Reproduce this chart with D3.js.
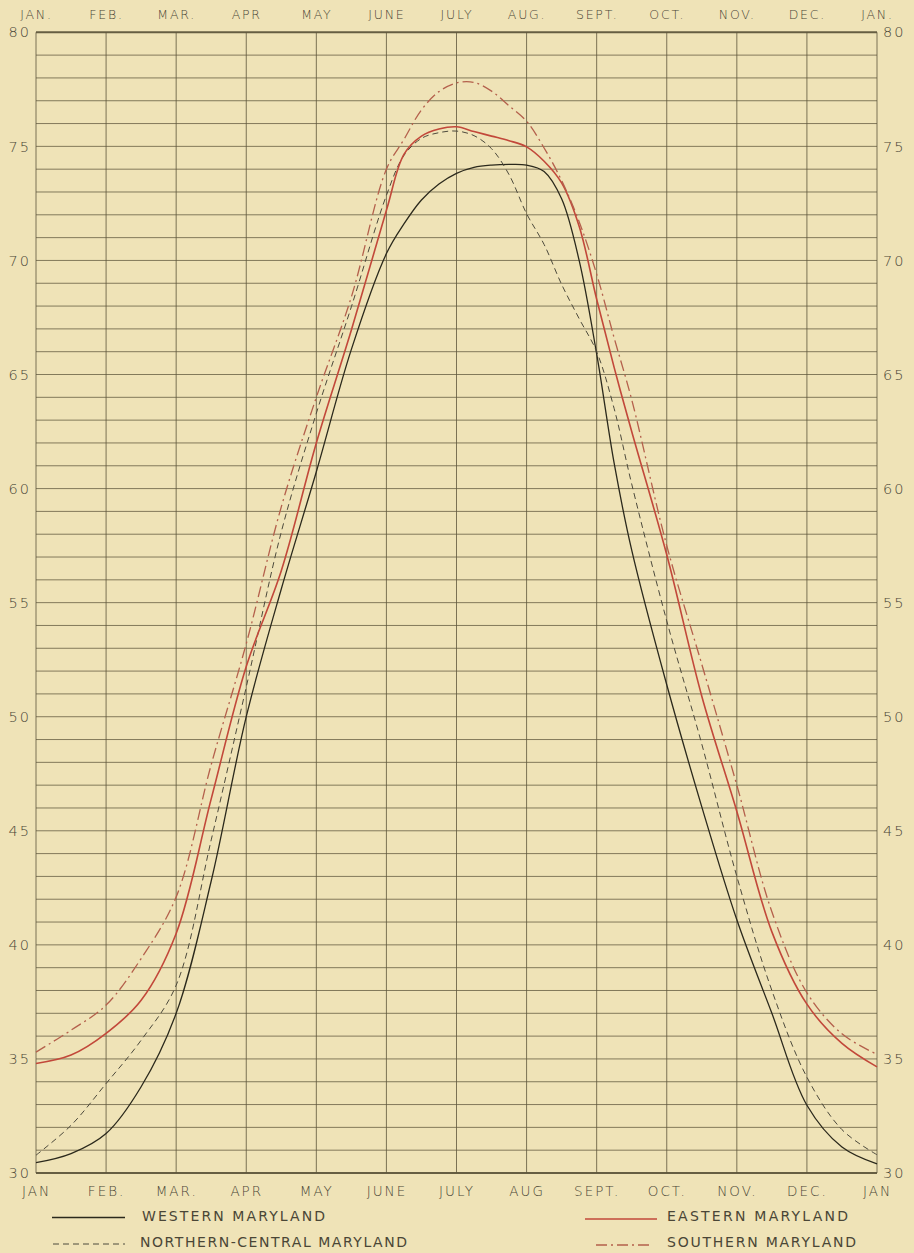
<!DOCTYPE html>
<html>
<head>
<meta charset="utf-8">
<script src="https://cdn.jsdelivr.net/npm/d3@7"></script>
<style>
  html,body{margin:0;padding:0;background:#efe3b7;}
  svg{display:block;}
  text{font-family:"DejaVu Sans","Liberation Sans",sans-serif;fill:#4a4636;}
</style>
</head>
<body>
<svg id="chart" width="914" height="1253"></svg>
<script>
// ---- data ----
const topMonthLabels = ["JAN.","FEB.","MAR.","APR","MAY","JUNE","JULY","AUG.","SEPT.","OCT.","NOV.","DEC.","JAN."];
const bottomMonthLabels = ["JAN","FEB.","MAR.","APR","MAY","JUNE","JULY","AUG","SEPT.","OCT.","NOV.","DEC.","JAN"];
const yTicks = [30,35,40,45,50,55,60,65,70,75,80];

// position in months (0 = Jan 1st line, 12 = next Jan)
const monthPos = [0,0.5,1,1.5,2,2.5,3,3.5,4,4.5,5,5.25,5.5,5.75,6,6.25,6.5,6.75,7,7.25,7.5,7.75,8,8.25,8.5,9,9.5,10,10.5,11,11.5,12];

const western  = [30.45,30.85,31.73,33.78,37.0,42.8,50.0,55.6,60.74,66.1,70.3,71.6,72.65,73.35,73.82,74.08,74.18,74.21,74.18,73.9,72.7,70.0,65.9,61.1,57.3,51.4,46.05,41.1,37.0,32.97,31.14,30.4];
const northernCentral = [30.78,32.09,33.92,35.82,38.23,44.6,51.3,58.1,63.3,67.97,72.85,74.6,75.35,75.6,75.67,75.47,74.9,73.76,72.05,70.7,68.95,67.45,66.0,63.5,60.2,54.2,48.8,43.0,38.0,34.2,31.9,30.8];
const eastern  = [34.8,35.17,36.12,37.57,40.5,46.4,52.2,56.4,62.0,66.95,72.2,74.65,75.45,75.76,75.86,75.65,75.45,75.25,74.98,74.35,73.4,71.5,68.3,65.3,62.5,57.1,50.9,45.85,40.57,37.4,35.68,34.65];
const southern = [35.3,36.26,37.36,39.4,42.1,47.9,53.2,59.2,64.0,68.4,74.0,75.3,76.6,77.4,77.78,77.8,77.42,76.78,76.1,74.93,73.5,71.7,69.4,66.6,63.9,57.5,52.3,47.0,41.45,37.9,36.1,35.2];

const seriesNames = ["WESTERN MARYLAND","NORTHERN-CENTRAL MARYLAND","EASTERN MARYLAND","SOUTHERN MARYLAND"];

// ---- layout ----
const svg = d3.select("#chart");
const plotL = 36, plotR = 877, plotT = 32.3, plotB = 1173;

const x = d3.scaleLinear().domain([0,12]).range([plotL,plotR]);
const y = d3.scaleLinear().domain([30,80]).range([plotB,plotT]);

const gridColor = "#5f573c";

// horizontal grid every degree
const g = svg.append("g");
g.selectAll("line.h").data(d3.range(30,81)).enter().append("line")
  .attr("x1",plotL).attr("x2",plotR)
  .attr("y1",d=>y(d)).attr("y2",d=>y(d))
  .attr("stroke",gridColor)
  .attr("stroke-width",d=>(d===30||d===80)?2:1)
  .attr("opacity",d=>(d===30||d===80)?0.95:0.75);

// vertical grid every month
g.selectAll("line.v").data(d3.range(0,13)).enter().append("line")
  .attr("x1",d=>x(d)).attr("x2",d=>x(d))
  .attr("y1",plotT).attr("y2",plotB)
  .attr("stroke",gridColor).attr("stroke-width",1).attr("opacity",0.8);

// axes (labels)
const topAxis = d3.axisTop(x).tickValues(d3.range(0,13)).tickFormat(i=>topMonthLabels[i]).tickSize(0).tickPadding(13);
const bottomAxis = d3.axisBottom(x).tickValues(d3.range(0,13)).tickFormat(i=>bottomMonthLabels[i]).tickSize(0).tickPadding(13);
const leftAxis = d3.axisLeft(y).tickValues(yTicks).tickFormat(d3.format("d")).tickSize(0).tickPadding(5);
const rightAxis = d3.axisRight(y).tickValues(yTicks).tickFormat(d3.format("d")).tickSize(0).tickPadding(6);

function styleAxis(sel, size, spacing){
  sel.select(".domain").remove();
  sel.selectAll("text").attr("font-size",size).attr("fill","#4f4b3b")
    .style("letter-spacing",spacing+"px")
    .style("font-family","'DejaVu Sans',sans-serif");
}
styleAxis(svg.append("g").attr("transform",`translate(0,${plotT})`).call(topAxis), 12.5, 1.8);
styleAxis(svg.append("g").attr("transform",`translate(0,${plotB})`).call(bottomAxis), 13.5, 2);
styleAxis(svg.append("g").attr("transform",`translate(${plotL},0)`).call(leftAxis), 14.5, 2);
styleAxis(svg.append("g").attr("transform",`translate(${plotR},0)`).call(rightAxis), 14.5, 2);
svg.selectAll("g.tick text").style("font-weight","300");

// ---- lines ----
const styles = [
  {data:western, color:"#2b291c", width:1.3, dash:null},
  {data:northernCentral, color:"#4d4a3c", width:1, dash:"6,4"},
  {data:eastern, color:"#c2483a", width:1.6, dash:null},
  {data:southern, color:"#b4604c", width:1.3, dash:"11,4,2,4"}
];

const line = d3.line().x(d=>x(d[0])).y(d=>y(d[1])).curve(d3.curveCatmullRom.alpha(0.5));

styles.forEach(s=>{
  const pts = monthPos.map((m,i)=>[m,s.data[i]]);
  svg.append("path").datum(pts)
    .attr("d",line)
    .attr("fill","none")
    .attr("stroke",s.color)
    .attr("stroke-width",s.width)
    .attr("stroke-dasharray",s.dash);
});

// ---- legend ----
const legendItems = [
  {name:seriesNames[0], s:styles[0], lx1:52, lx2:125, ly:1217.5, tx:142, ty:1221, tw:183},
  {name:seriesNames[1], s:styles[1], lx1:53, lx2:125, ly:1244, tx:140, ty:1247, tw:267},
  {name:seriesNames[2], s:styles[2], lx1:585, lx2:657, ly:1219, tx:667, ty:1221, tw:181},
  {name:seriesNames[3], s:styles[3], lx1:596, lx2:652, ly:1245, tx:667, ty:1247, tw:189}
];
const lg = svg.append("g");
legendItems.forEach(it=>{
  lg.append("line").attr("x1",it.lx1).attr("x2",it.lx2).attr("y1",it.ly).attr("y2",it.ly)
    .attr("stroke",it.s.color).attr("stroke-width",it.s.width)
    .attr("stroke-dasharray",it.s.dash);
  lg.append("text").attr("x",it.tx).attr("y",it.ty).text(it.name)
    .attr("font-size",14).attr("fill","#3f3c2f")
    .attr("textLength",it.tw).attr("lengthAdjust","spacing");
});
</script>
</body>
</html>
